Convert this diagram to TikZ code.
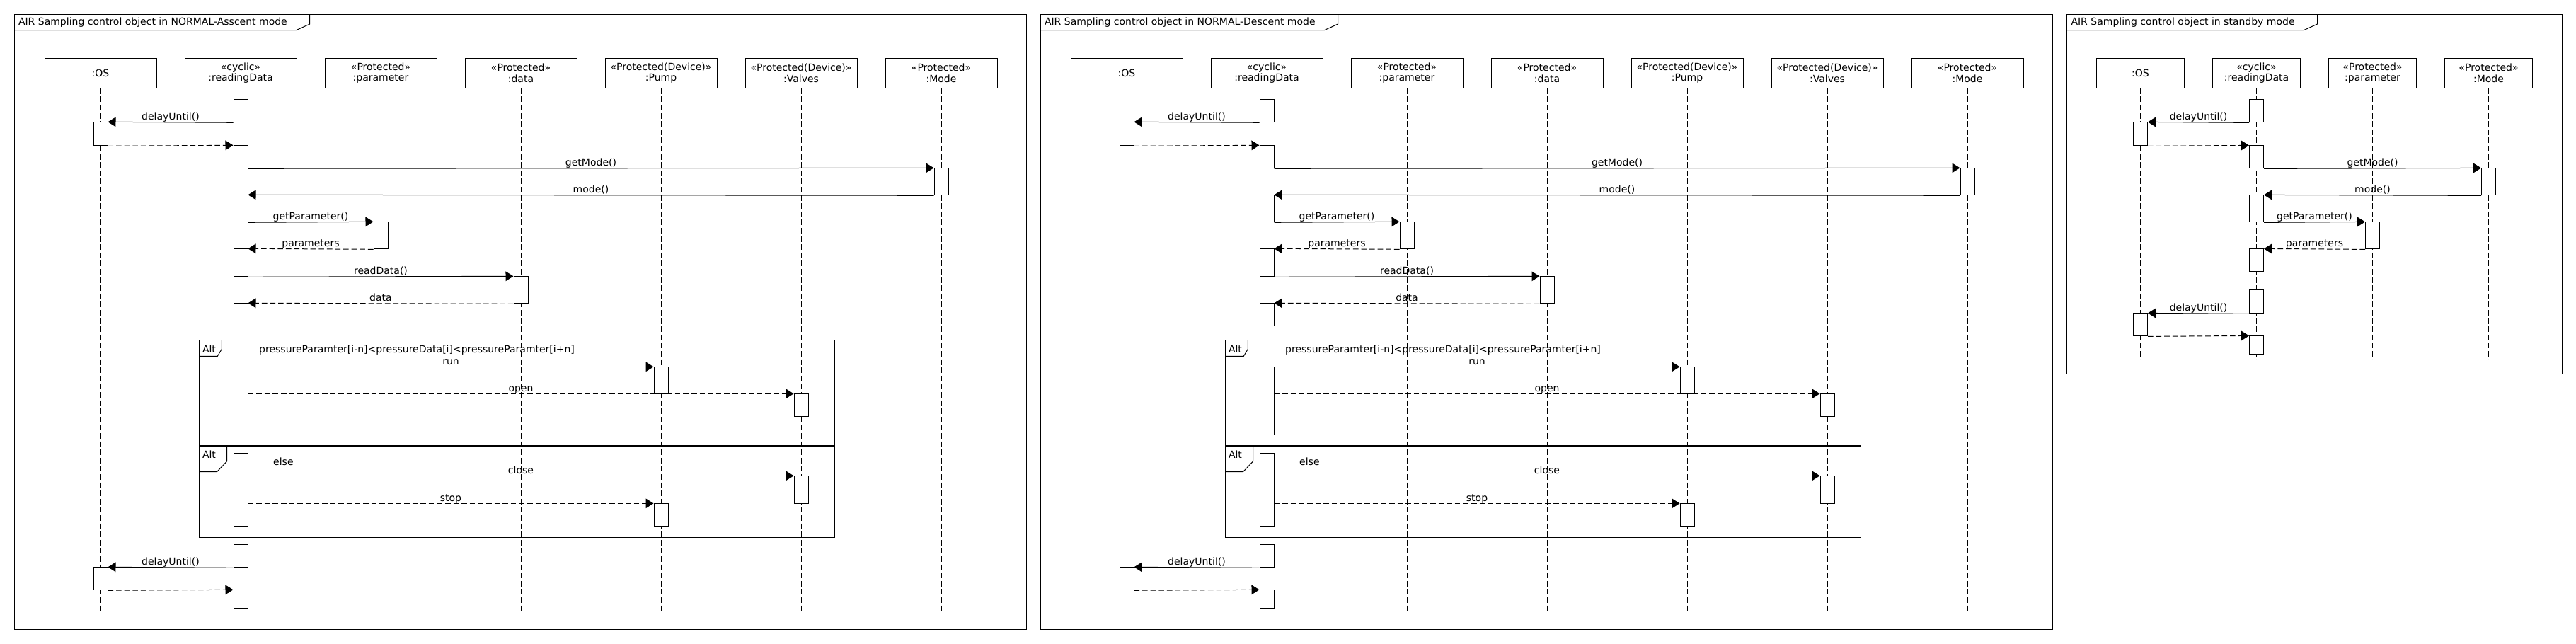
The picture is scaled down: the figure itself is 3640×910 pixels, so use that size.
\documentclass[tikz,border=0pt]{standalone}
\usepackage{fontspec}
\setmainfont{DejaVu Sans}
\usetikzlibrary{arrows.meta}

\begin{document}
\begin{tikzpicture}[x=0.5pt,y=-0.5pt,>={Triangle[length=5.5pt,width=6.8pt]},
    font=\fontsize{7}{7.7}\selectfont,line width=0.5pt,node distance=99pt,
    lifehead/.style={draw,align=center,minimum width=79pt,minimum height=21pt,inner sep=1pt},
    actbox/.style={draw,fill=white,anchor=north,inner sep=0pt,minimum width=10pt,minimum height=#1*0.5pt},
    lifeline/.style={line width=0.45pt,dash pattern=on 4pt off 1.8pt},
    callmsg/.style={->},
    replymsg/.style={->,dash pattern=on 3.8pt off 2pt},
    msglabel/.style={anchor=base,inner sep=0pt,yshift=1.5pt},
    panel/.style={line width=0.5pt},
    paneltitle/.style={anchor=base west,inner sep=0pt}]

  \fill[white] (0,0) rectangle (3640,910);
  \useasboundingbox (0,0) rectangle (3640,910);

  \foreach \dx/\p/\m in {0/a/Asscent,1450/d/Descent}{
  \begin{scope}[shift={(\dx,0)},name prefix=\p-]
  \draw[panel] (20,20) rectangle (1450,889);
  \node[paneltitle] (t) at (25.5,35.5) {AIR Sampling control object in NORMAL-\m\ mode};
  \path (t.east) ++(6.3pt,0) coordinate (t1) ++(9.4pt,0) coordinate (t2);
  \draw[panel] (20,42.5) -- (t1 |- 0,42.5) -- (t2 |- 0,34) -- (t2 |- 0,20);

  \node[lifehead] (os) at (142,103.3) {:OS};
  \node[lifehead] (rd) [right of=os] {«cyclic»\\:readingData};
  \node[lifehead] (par) [right of=rd] {«Protected»\\:parameter};
  \node[lifehead] (dat) [right of=par] {«Protected»\\:data};
  \node[lifehead] (pump) [right of=dat] {«Protected(Device)»\\:Pump};
  \node[lifehead] (val) [right of=pump] {«Protected(Device)»\\:Valves};
  \node[lifehead] (mode) [right of=val] {«Protected»\\:Mode};
  \coordinate (end) at (0,867.3);
  \foreach \n in {os,rd,par,dat,pump,val,mode}
    \draw[lifeline] (\n.south) -- (\n.south |- end);

  \draw[panel] (281,480) rectangle (1179.4,759.3);
  \draw[line width=1pt] (281,630) -- (1179.4,630);
  \draw[panel] (281,503.3) -- (307.3,503.3) -- (313.3,493.3) -- (313.3,480);
  \draw[panel] (281,666.5) -- (306.7,666.5) -- (320.5,652) -- (320.5,630);
  \node[paneltitle] (alt1) at (285.5,498.5) {Alt};
  \node[paneltitle] (alt2) at (285.5,647) {Alt};
  \node[paneltitle] (g1) at (365.7,498.5) {pressureParamter[i-n]<pressureData[i]<pressureParamter[i+n]};
  \node[paneltitle] (g2) at (385.7,657.5) {else};

  \node[actbox=32] (rd1) at (340,140.3) {};
  \node[actbox=33] (os1) at (142,172.3) {};
  \node[actbox=32] (rd2) at (340,205.3) {};
  \node[actbox=38] (mode1) at (1330,237.3) {};
  \node[actbox=38] (rd3) at (340,275.3) {};
  \node[actbox=38] (par1) at (538,313.3) {};
  \node[actbox=39] (rd4) at (340,351.3) {};
  \node[actbox=38] (dat1) at (736,390.3) {};
  \node[actbox=32] (rd5) at (340,428.3) {};
  \node[actbox=96] (rd6) at (340,518.3) {};
  \node[actbox=38] (pump1) at (934,518.3) {};
  \node[actbox=32] (val1) at (1132,556.3) {};
  \node[actbox=103] (rd7) at (340,640.3) {};
  \node[actbox=39] (val2) at (1132,672.3) {};
  \node[actbox=32] (pump2) at (934,711.3) {};
  \node[actbox=32] (rd8) at (340,769.3) {};
  \node[actbox=32] (os2) at (142,801.3) {};
  \node[actbox=26] (rd9) at (340,833.3) {};

  \path (rd1.south west) edge[callmsg] node[msglabel] {delayUntil()} (os1.north east)
        (os1.south east) edge[replymsg] (rd2.north west)
        (rd2.south east) edge[callmsg] node[msglabel] {getMode()} (mode1.north west)
        (mode1.south west) edge[callmsg] node[msglabel] {mode()} (rd3.north east)
        (rd3.south east) edge[callmsg] node[msglabel] {getParameter()} (par1.north west)
        (par1.south west) edge[replymsg] node[msglabel] {parameters} (rd4.north east)
        (rd4.south east) edge[callmsg] node[msglabel] {readData()} (dat1.north west)
        (dat1.south west) edge[replymsg] node[msglabel] {data} (rd5.north east)
        (rd6.north east) edge[replymsg] node[msglabel] {run} (pump1.north west)
        (rd6.east |- val1.north) edge[replymsg] node[msglabel] {open} (val1.north west)
        (rd7.east |- val2.north) edge[replymsg] node[msglabel] {close} (val2.north west)
        (rd7.east |- pump2.north) edge[replymsg] node[msglabel] {stop} (pump2.north west)
        (rd8.south west) edge[callmsg] node[msglabel] {delayUntil()} (os2.north east)
        (os2.south east) edge[replymsg] (rd9.north west);
  \end{scope}}

  \begin{scope}[name prefix=s-,node distance=82pt,lifehead/.append style={minimum width=62pt}]
  \draw[panel] (2920,20) rectangle (3620,528.6);
  \node[paneltitle] (t) at (2926,35.5) {AIR Sampling control object in standby mode};
  \path (t.east) ++(6.3pt,0) coordinate (t1) ++(9.4pt,0) coordinate (t2);
  \draw[panel] (2920,42.5) -- (t1 |- 0,42.5) -- (t2 |- 0,34) -- (t2 |- 0,20);

  \node[lifehead] (os) at (3024.5,103.3) {:OS};
  \node[lifehead] (rd) [right of=os] {«cyclic»\\:readingData};
  \node[lifehead] (par) [right of=rd] {«Protected»\\:parameter};
  \node[lifehead] (mode) [right of=par] {«Protected»\\:Mode};
  \coordinate (end) at (0,509);
  \foreach \n in {os,rd,par,mode}
    \draw[lifeline] (\n.south) -- (\n.south |- end);

  \node[actbox=32] (rd1) at (3188.5,140.4) {};
  \node[actbox=33] (os1) at (3024.5,172.4) {};
  \node[actbox=32] (rd2) at (3188.5,205.4) {};
  \node[actbox=38] (mode1) at (3516.5,237.4) {};
  \node[actbox=38] (rd3) at (3188.5,275.4) {};
  \node[actbox=38] (par1) at (3352.5,313.4) {};
  \node[actbox=32] (rd4) at (3188.5,351.4) {};
  \node[actbox=33] (rd5) at (3188.5,409.4) {};
  \node[actbox=32] (os2) at (3024.5,442.4) {};
  \node[actbox=26] (rd6) at (3188.5,474.4) {};

  \path (rd1.south west) edge[callmsg] node[msglabel] {delayUntil()} (os1.north east)
        (os1.south east) edge[replymsg] (rd2.north west)
        (rd2.south east) edge[callmsg] node[msglabel] {getMode()} (mode1.north west)
        (mode1.south west) edge[callmsg] node[msglabel] {mode()} (rd3.north east)
        (rd3.south east) edge[callmsg] node[msglabel] {getParameter()} (par1.north west)
        (par1.south west) edge[replymsg] node[msglabel] {parameters} (rd4.north east)
        (rd5.south west) edge[callmsg] node[msglabel] {delayUntil()} (os2.north east)
        (os2.south east) edge[replymsg] (rd6.north west);
  \end{scope}
\end{tikzpicture}
\end{document}
